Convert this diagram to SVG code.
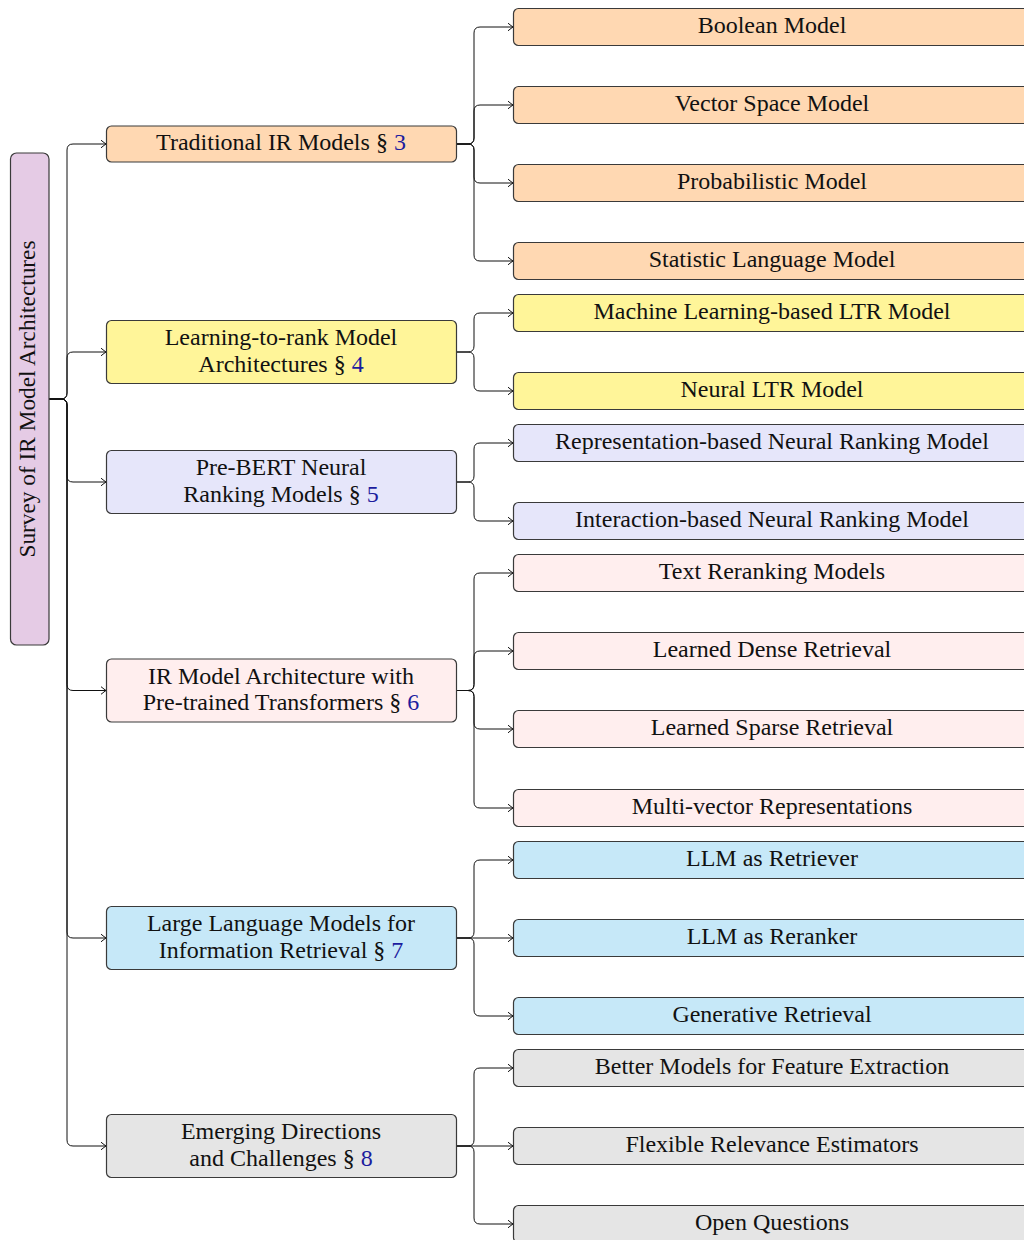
<svg xmlns="http://www.w3.org/2000/svg" width="1024" height="1240" viewBox="0 0 1024 1240">
<style>
text{font-family:"Liberation Serif","Times New Roman",serif;font-size:24px;fill:#111;text-anchor:middle}
.lk{fill:#1c1c9e}
.box{stroke:#3a3a3a;stroke-width:1.2}
.e{fill:none;stroke:#111;stroke-width:1}
.or{fill:#FFD8B2}.ye{fill:#FFF599}.la{fill:#E6E6FA}.pk{fill:#FFEEEE}.bl{fill:#C6E8F8}.gr{fill:#E5E5E5}.rt{fill:#E5CBE5}
</style>
<defs>
<marker id="ar" markerUnits="userSpaceOnUse" markerWidth="10" markerHeight="10" viewBox="-6 -5 7 10" refX="0" refY="0" orient="auto">
<path d="M-5,-3.8 Q-1.5,-1 0,0 Q-1.5,1 -5,3.8" fill="none" stroke="#111" stroke-width="1"/>
</marker>
</defs>
<g id="connectors">
<path class="e" marker-end="url(#ar)" d="M49,399 H61 Q67,399 67,393 V150 Q67,144 73,144 H106"/>
<path class="e" marker-end="url(#ar)" d="M49,399 H61 Q67,399 67,393 V358 Q67,352 73,352 H106"/>
<path class="e" marker-end="url(#ar)" d="M49,399 H61 Q67,399 67,405 V476 Q67,482 73,482 H106"/>
<path class="e" marker-end="url(#ar)" d="M49,399 H61 Q67,399 67,405 V684.5 Q67,690.5 73,690.5 H106"/>
<path class="e" marker-end="url(#ar)" d="M49,399 H61 Q67,399 67,405 V932 Q67,938 73,938 H106"/>
<path class="e" marker-end="url(#ar)" d="M49,399 H61 Q67,399 67,405 V1140 Q67,1146 73,1146 H106"/>
<path class="e" marker-end="url(#ar)" d="M456,144 H468 Q474,144 474,138 V33 Q474,27 480,27 H513"/>
<path class="e" marker-end="url(#ar)" d="M456,144 H468 Q474,144 474,138 V111 Q474,105 480,105 H513"/>
<path class="e" marker-end="url(#ar)" d="M456,144 H468 Q474,144 474,150 V177 Q474,183 480,183 H513"/>
<path class="e" marker-end="url(#ar)" d="M456,144 H468 Q474,144 474,150 V255 Q474,261 480,261 H513"/>
<path class="e" marker-end="url(#ar)" d="M456,352 H468 Q474,352 474,346 V319 Q474,313 480,313 H513"/>
<path class="e" marker-end="url(#ar)" d="M456,352 H468 Q474,352 474,358 V385 Q474,391 480,391 H513"/>
<path class="e" marker-end="url(#ar)" d="M456,482 H468 Q474,482 474,476 V449 Q474,443 480,443 H513"/>
<path class="e" marker-end="url(#ar)" d="M456,482 H468 Q474,482 474,488 V515 Q474,521 480,521 H513"/>
<path class="e" marker-end="url(#ar)" d="M456,690.5 H468 Q474,690.5 474,684.5 V579 Q474,573 480,573 H513"/>
<path class="e" marker-end="url(#ar)" d="M456,690.5 H468 Q474,690.5 474,684.5 V657 Q474,651 480,651 H513"/>
<path class="e" marker-end="url(#ar)" d="M456,690.5 H468 Q474,690.5 474,696.5 V723 Q474,729 480,729 H513"/>
<path class="e" marker-end="url(#ar)" d="M456,690.5 H468 Q474,690.5 474,696.5 V802 Q474,808 480,808 H513"/>
<path class="e" marker-end="url(#ar)" d="M456,938 H468 Q474,938 474,932 V866 Q474,860 480,860 H513"/>
<path class="e" marker-end="url(#ar)" d="M456,938 H513"/>
<path class="e" marker-end="url(#ar)" d="M456,938 H468 Q474,938 474,944 V1010 Q474,1016 480,1016 H513"/>
<path class="e" marker-end="url(#ar)" d="M456,1146 H468 Q474,1146 474,1140 V1074 Q474,1068 480,1068 H513"/>
<path class="e" marker-end="url(#ar)" d="M456,1146 H513"/>
<path class="e" marker-end="url(#ar)" d="M456,1146 H468 Q474,1146 474,1152 V1218 Q474,1224 480,1224 H513"/>
</g>
<g id="root">
<rect class="box rt" x="10.5" y="153" width="38.5" height="492" rx="6"/>
<text transform="translate(35,399) rotate(-90)" x="0" y="0" style="font-size:23.3px">Survey of IR Model Architectures</text>
</g>
<g id="traditional">
<rect class="box or" x="106.5" y="126" width="350" height="36" rx="5"/>
<text x="281" y="150">Traditional IR Models § <tspan class="lk">3</tspan></text>
</g>
<g id="ltr">
<rect class="box ye" x="106.5" y="320.5" width="350" height="63" rx="5"/>
<text x="281" y="345">Learning-to-rank Model</text>
<text x="281" y="371.5">Architectures § <tspan class="lk">4</tspan></text>
</g>
<g id="prebert">
<rect class="box la" x="106.5" y="450.5" width="350" height="63" rx="5"/>
<text x="281" y="475">Pre-BERT Neural</text>
<text x="281" y="501.5">Ranking Models § <tspan class="lk">5</tspan></text>
</g>
<g id="irarch">
<rect class="box pk" x="106.5" y="659" width="350" height="63" rx="5"/>
<text x="281" y="683.5">IR Model Architecture with</text>
<text x="281" y="710">Pre-trained Transformers § <tspan class="lk">6</tspan></text>
</g>
<g id="llm">
<rect class="box bl" x="106.5" y="906.5" width="350" height="63" rx="5"/>
<text x="281" y="931">Large Language Models for</text>
<text x="281" y="957.5">Information Retrieval § <tspan class="lk">7</tspan></text>
</g>
<g id="emerging">
<rect class="box gr" x="106.5" y="1114.5" width="350" height="63" rx="5"/>
<text x="281" y="1139">Emerging Directions</text>
<text x="281" y="1165.5">and Challenges § <tspan class="lk">8</tspan></text>
</g>
<g id="boolean"><rect class="box or" x="513.5" y="8.5" width="518" height="37" rx="5"/><text x="772" y="32.5">Boolean Model</text></g>
<g id="vector"><rect class="box or" x="513.5" y="86.5" width="518" height="37" rx="5"/><text x="772" y="110.5">Vector Space Model</text></g>
<g id="probabilistic"><rect class="box or" x="513.5" y="164.5" width="518" height="37" rx="5"/><text x="772" y="188.5">Probabilistic Model</text></g>
<g id="statistic"><rect class="box or" x="513.5" y="242.5" width="518" height="37" rx="5"/><text x="772" y="266.5">Statistic Language Model</text></g>
<g id="mlltr"><rect class="box ye" x="513.5" y="294.5" width="518" height="37" rx="5"/><text x="772" y="318.5">Machine Learning-based LTR Model</text></g>
<g id="neuralltr"><rect class="box ye" x="513.5" y="372.5" width="518" height="37" rx="5"/><text x="772" y="396.5">Neural LTR Model</text></g>
<g id="repr"><rect class="box la" x="513.5" y="424.5" width="518" height="37" rx="5"/><text x="772" y="448.5">Representation-based Neural Ranking Model</text></g>
<g id="inter"><rect class="box la" x="513.5" y="502.5" width="518" height="37" rx="5"/><text x="772" y="526.5">Interaction-based Neural Ranking Model</text></g>
<g id="textrerank"><rect class="box pk" x="513.5" y="554.5" width="518" height="37" rx="5"/><text x="772" y="578.5">Text Reranking Models</text></g>
<g id="dense"><rect class="box pk" x="513.5" y="632.5" width="518" height="37" rx="5"/><text x="772" y="656.5">Learned Dense Retrieval</text></g>
<g id="sparse"><rect class="box pk" x="513.5" y="710.5" width="518" height="37" rx="5"/><text x="772" y="734.5">Learned Sparse Retrieval</text></g>
<g id="multivec"><rect class="box pk" x="513.5" y="789.5" width="518" height="37" rx="5"/><text x="772" y="813.5">Multi-vector Representations</text></g>
<g id="llmret"><rect class="box bl" x="513.5" y="841.5" width="518" height="37" rx="5"/><text x="772" y="865.5">LLM as Retriever</text></g>
<g id="llmrerank"><rect class="box bl" x="513.5" y="919.5" width="518" height="37" rx="5"/><text x="772" y="943.5">LLM as Reranker</text></g>
<g id="generative"><rect class="box bl" x="513.5" y="997.5" width="518" height="37" rx="5"/><text x="772" y="1021.5">Generative Retrieval</text></g>
<g id="better"><rect class="box gr" x="513.5" y="1049.5" width="518" height="37" rx="5"/><text x="772" y="1073.5">Better Models for Feature Extraction</text></g>
<g id="flexible"><rect class="box gr" x="513.5" y="1127.5" width="518" height="37" rx="5"/><text x="772" y="1151.5">Flexible Relevance Estimators</text></g>
<g id="open"><rect class="box gr" x="513.5" y="1205.5" width="518" height="37" rx="5"/><text x="772" y="1229.5">Open Questions</text></g>
</svg>
